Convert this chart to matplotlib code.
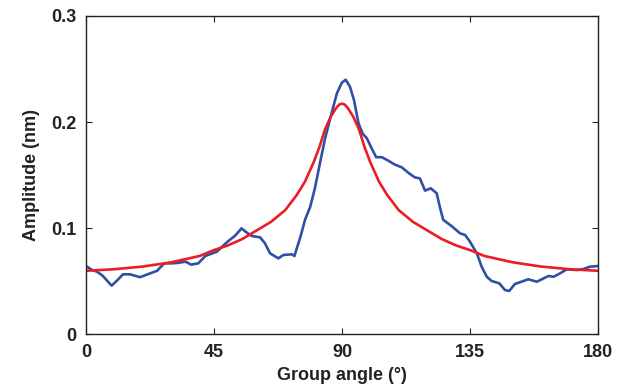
import numpy as np
import matplotlib
matplotlib.use("Agg")
import matplotlib.pyplot as plt

# measured amplitude vs group angle
angle_meas = [0, 2, 4, 6, 9, 11, 13, 15.5, 17, 19, 21, 23, 25, 27.5, 30, 32.5, 35, 37,
              39.5, 42, 46, 49.5, 52.4, 54.7, 56.5, 58.3, 61.2, 62.9, 64.7, 67.6, 69.4,
              72.3, 73.3, 75.5, 77, 78.8, 80.5, 82.3, 84, 86, 88.2, 89.9, 91.3, 92.8,
              94.2, 95.8, 97.3, 98.7, 100.5, 102, 104, 106.3, 108.6, 111, 113.3, 115.6,
              117.4, 119.2, 121.2, 123.3, 124.5, 125.6, 128.6, 131.5, 133.3, 135, 137.4,
              139.1, 140.9, 142.6, 145.3, 147.3, 148.8, 150.8, 153.8, 155.5, 158.5,
              162.6, 164.4, 166.7, 169, 172.5, 174.9, 177.2, 180]
amp_meas = [0.0645, 0.061, 0.059, 0.055, 0.046, 0.051, 0.0567, 0.0567, 0.0555, 0.054,
            0.056, 0.058, 0.060, 0.067, 0.067, 0.0675, 0.0686, 0.0658, 0.067, 0.074,
            0.078, 0.0868, 0.093, 0.100, 0.096, 0.0928, 0.0915, 0.086, 0.0765, 0.0717,
            0.0749, 0.0755, 0.074, 0.093, 0.108, 0.120, 0.138, 0.162, 0.184, 0.205,
            0.227, 0.237, 0.240, 0.2334, 0.221, 0.199, 0.189, 0.185, 0.175, 0.167,
            0.167, 0.1637, 0.160, 0.1575, 0.1524, 0.148, 0.147, 0.1355, 0.1377, 0.133,
            0.119, 0.108, 0.102, 0.0953, 0.0937, 0.0874, 0.0765, 0.0639, 0.0544,
            0.0504, 0.0482, 0.0419, 0.041, 0.0476, 0.0504, 0.052, 0.0497, 0.0551,
            0.0544, 0.0576, 0.0614, 0.0607, 0.0617, 0.0639, 0.0645]

# fitted peak
angle_fit = [0, 10, 20, 30, 40, 45, 50, 55, 60, 65, 70, 74, 77, 80, 82, 84, 86, 88, 89,
             90, 91, 92, 94, 96, 98, 100, 103, 106, 110, 115, 120, 125, 130, 135, 140,
             150, 160, 170, 180]
amp_fit = [0.060, 0.0615, 0.064, 0.068, 0.074, 0.0795, 0.084, 0.090, 0.098, 0.106,
           0.117, 0.131, 0.144, 0.162, 0.176, 0.193, 0.205, 0.2135, 0.2165, 0.2175,
           0.2165, 0.2135, 0.205, 0.193, 0.176, 0.162, 0.144, 0.131, 0.117, 0.106,
           0.098, 0.090, 0.084, 0.0795, 0.074, 0.068, 0.064, 0.0615, 0.060]

x_ticks = [0, 45, 90, 135, 180]
y_ticks = [0, 0.1, 0.2, 0.3]
y_tick_labels = ["0", "0.1", "0.2", "0.3"]

plt.rcParams['font.family'] = ['Liberation Sans', 'DejaVu Sans']

fig = plt.figure(figsize=(6.24, 3.88), dpi=100)
ax = fig.add_axes([0.1378, 0.1379, 0.8205, 0.8209])

ax.plot(angle_meas, amp_meas, color='#3050a6', lw=1.9)
ax.plot(angle_fit, amp_fit, color='#ec1c24', lw=1.9)

ax.set_xlim(0, 180)
ax.set_ylim(0, 0.3)
ax.set_xticks(x_ticks)
ax.set_xticklabels([str(t) for t in x_ticks])
ax.set_yticks(y_ticks)
ax.set_yticklabels(y_tick_labels)

ax.tick_params(direction='in', length=4, width=0.8, top=True, right=True,
               labelsize=13, colors='#222222')
ax.tick_params(axis='x', pad=7)
ax.tick_params(axis='y', pad=7)
for lab in ax.get_xticklabels() + ax.get_yticklabels():
    lab.set_fontweight('bold')
for s in ax.spines.values():
    s.set_linewidth(1.0)
    s.set_color('#222222')

ax.set_xlabel("Group angle (°)", fontsize=13, fontweight='bold', labelpad=4, color='#222222')
ax.set_ylabel("Amplitude (nm)", fontsize=13, fontweight='bold', labelpad=8, color='#222222')

plt.savefig("out.png", dpi=100)
